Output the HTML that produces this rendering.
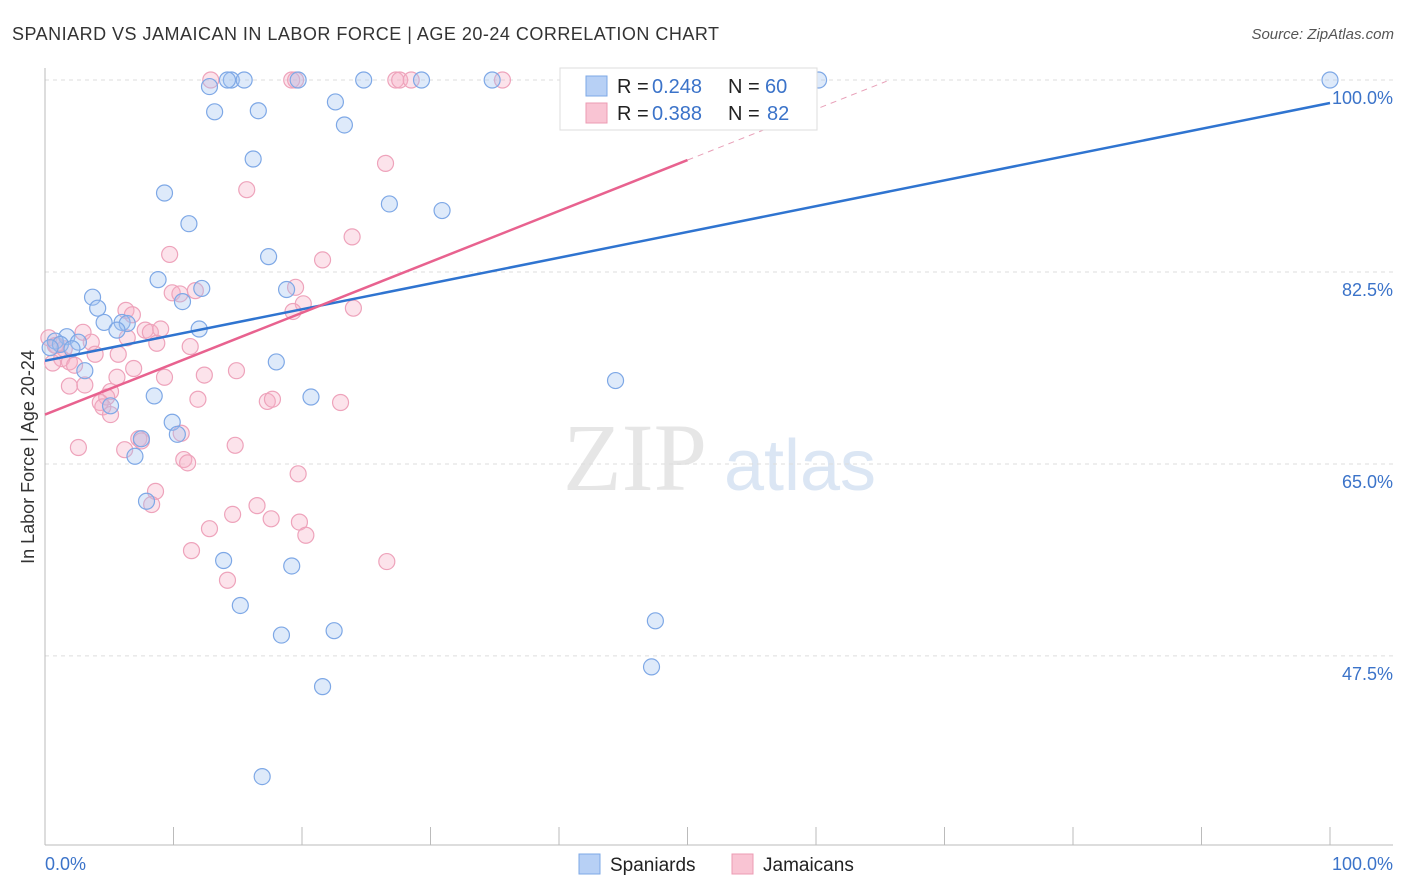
<!DOCTYPE html>
<html><head><meta charset="utf-8"><style>
body{margin:0;background:#fff;font-family:"Liberation Sans",sans-serif}
svg{display:block}
</style></head><body>
<svg id="c" width="1406" height="892" xmlns="http://www.w3.org/2000/svg">
<text x="12" y="40" font-size="18" fill="#333" textLength="707">SPANIARD VS JAMAICAN IN LABOR FORCE | AGE 20-24 CORRELATION CHART</text>
<text x="1394" y="39" font-size="15" fill="#555" font-style="italic" text-anchor="end">Source: ZipAtlas.com</text>
<text x="635" y="490" font-size="96" fill="#e6e6e6" font-family="Liberation Serif" text-anchor="middle">ZIP</text>
<text x="800" y="490" font-size="72" fill="#dbe6f4" text-anchor="middle">atlas</text>
<g id="grid"></g><g id="pts"></g><g id="lines"></g>
<text transform="translate(34,457) rotate(-90)" font-size="18" fill="#333" text-anchor="middle">In Labor Force | Age 20-24</text>
<text x="45" y="870" font-size="18" fill="#3b73c9">0.0%</text>
<text x="1393" y="870" font-size="18" fill="#3b73c9" text-anchor="end">100.0%</text>
<g>
<rect x="560" y="68" width="257" height="62" fill="#fff" stroke="#ddd"/>
<rect x="586" y="76" width="21" height="20" fill="#b7d0f5" stroke="#7ea8e6"/>
<rect x="586" y="103" width="21" height="20" fill="#f9c4d3" stroke="#ec9bb3"/>
<text x="617" y="93" font-size="20" fill="#222">R =</text>
<text x="652" y="93" font-size="20" fill="#3b73c9">0.248</text>
<text x="728" y="93" font-size="20" fill="#222">N =</text>
<text x="765" y="93" font-size="20" fill="#3b73c9">60</text>
<text x="617" y="120" font-size="20" fill="#222">R =</text>
<text x="652" y="120" font-size="20" fill="#3b73c9">0.388</text>
<text x="728" y="120" font-size="20" fill="#222">N =</text>
<text x="767" y="120" font-size="20" fill="#3b73c9">82</text>
</g>
<g>
<rect x="579" y="854" width="21" height="20" fill="#b7d0f5" stroke="#7ea8e6"/>
<text x="610" y="871" font-size="19" fill="#222">Spaniards</text>
<rect x="732" y="854" width="21" height="20" fill="#f9c4d3" stroke="#ec9bb3"/>
<text x="763" y="871" font-size="19" fill="#222">Jamaicans</text>
</g>
</svg>
<script>
const yTicks=[100,82.5,65,47.5];
const yTickLabels=["100.0%","82.5%","65.0%","47.5%"];
const blueX=[14.5,15.5,19.7,24.8,29.3,34.8,45.4,52.1,58.6,60.2,14.2,100,12.8,22.6,13.2,16.6,23.3,16.2,9.3,26.8,30.9,11.2,17.4,8.8,12.2,18.8,10.7,3.7,4.1,4.6,6.0,6.4,5.6,12.0,1.7,0.8,1.2,2.6,0.4,2.1,18.0,3.1,44.4,8.5,20.7,5.1,9.9,10.3,7.5,7.0,7.9,13.9,19.2,15.2,47.5,18.4,22.5,47.2,21.6,16.9];
const blueY=[100,100,100,100,100,100,100,100,100,100,100,100,99.4,98.0,97.1,97.2,95.9,92.8,89.7,88.7,88.1,86.9,83.9,81.8,81.0,80.9,79.8,80.2,79.2,77.9,77.9,77.8,77.2,77.3,76.6,76.2,75.9,76.1,75.6,75.5,74.3,73.5,72.6,71.2,71.1,70.3,68.8,67.7,67.3,65.7,61.6,56.2,55.7,52.1,50.7,49.4,49.8,46.5,44.7,36.5];
const pinkX=[12.9,19.2,19.5,27.3,27.6,28.5,35.6,45.4,26.5,15.7,23.9,9.7,21.6,19.5,9.9,10.5,11.7,20.1,19.3,24.0,6.3,6.8,2.96,7.8,8.2,9.0,6.4,8.7,3.6,11.3,0.9,1.5,3.9,5.7,1.3,1.9,2.3,0.6,6.9,14.9,12.4,5.6,9.3,1.9,3.1,5.1,4.8,4.3,11.9,17.3,17.7,23.0,4.5,5.1,10.6,7.3,7.5,2.6,6.2,14.8,10.8,11.1,19.7,8.6,8.3,16.5,14.6,17.6,19.8,20.3,12.8,11.4,26.6,14.2,0.3,0.8];
const pinkY=[100,100,100,100,100,100,100,100,92.4,90.0,85.7,84.1,83.6,81.1,80.6,80.5,80.8,79.6,78.9,79.2,79.0,78.6,77.0,77.2,77.0,77.3,76.5,76.0,76.1,75.7,75.8,75.5,75.0,75.0,74.6,74.3,74.0,74.2,73.7,73.5,73.1,72.9,72.9,72.1,72.2,71.6,71.1,70.6,70.9,70.7,70.9,70.6,70.2,69.5,67.8,67.3,67.1,66.5,66.3,66.7,65.4,65.1,64.1,62.5,61.3,61.2,60.4,60.0,59.7,58.5,59.1,57.1,56.1,54.4,76.5,75.8];
const blueLine=[74.4,97.9];
const pinkLine=[69.5,92.7];
const X=v=>45+v*12.85, Y=v=>80+(100-v)*10.97;
const NS="http://www.w3.org/2000/svg";
function mk(tag,attrs,parent){const e=document.createElementNS(NS,tag);for(const k in attrs)e.setAttribute(k,attrs[k]);document.getElementById(parent).appendChild(e);return e;}
yTicks.forEach((t,i)=>{
 const g=mk('line',{x1:45,x2:1393,y1:Y(t),y2:Y(t),stroke:'#ddd','stroke-dasharray':'4,4'},'grid');
 
 
 const tx=mk('text',{x:1393,y:Y(t)+24,'font-size':18,fill:'#3b73c9','text-anchor':'end'},'grid');
 tx.textContent=yTickLabels[i];
 
 
});
const ax=mk('line',{x1:45,x2:1393,y1:845,y2:845,stroke:'#bbb'},'grid');


const ay=mk('line',{x1:45,x2:45,y1:68,y2:845,stroke:'#bbb'},'grid');


for(let i=0;i<=10;i++){const t=mk('line',{x1:X(i*10),x2:X(i*10),y1:827,y2:845,stroke:'#bbb'},'grid');
 
 }
pinkX.forEach((v,i)=>{const c=mk('circle',{cx:X(v),cy:Y(pinkY[i]),r:8,fill:'rgba(247,176,199,0.35)',stroke:'#eea3bb','stroke-width':1.2},'pts');
 
 });
blueX.forEach((v,i)=>{const c=mk('circle',{cx:X(v),cy:Y(blueY[i]),r:8,fill:'rgba(160,195,240,0.35)',stroke:'#7ea8e6','stroke-width':1.2},'pts');
 
 });
const bl=mk('line',{x1:X(0),y1:Y(blueLine[0]),x2:X(100),y2:Y(blueLine[1]),stroke:'#2f74d0','stroke-width':2.5},'lines');


const ps=(pinkLine[1]-pinkLine[0])/50;
const pl=mk('line',{x1:X(0),y1:Y(pinkLine[0]),x2:X(50),y2:Y(pinkLine[1]),stroke:'#e8628f','stroke-width':2.5},'lines');


const pd=mk('line',{x1:X(50),y1:Y(pinkLine[1]),x2:X(65.5),y2:Y(pinkLine[0]+ps*65.5),stroke:'#e8a0b8','stroke-width':1,'stroke-dasharray':'6,5'},'lines');


</script>
</body></html>
